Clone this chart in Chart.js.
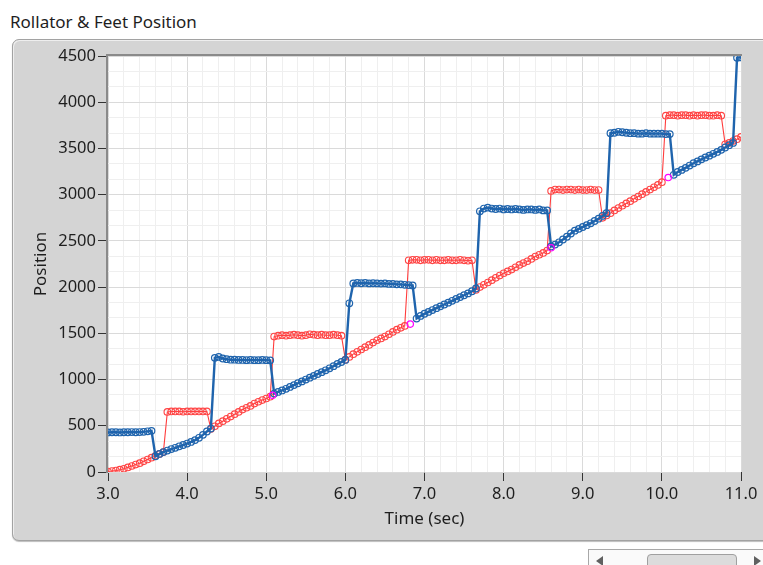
<!DOCTYPE html>
<html><head><meta charset="utf-8">
<script src="https://cdn.jsdelivr.net/npm/chart.js@4.4.1/dist/chart.umd.min.js"></script>
<style>
html,body{margin:0;padding:0;background:#fff;width:763px;height:565px;overflow:hidden;font-family:"Noto Sans",sans-serif;}
#title{position:absolute;left:10px;top:11px;font-size:17px;line-height:22px;color:#1e1e1e;white-space:nowrap;}
#panel{position:absolute;left:12px;top:39px;width:780px;height:500px;background:#d4d4d4;border:1px solid #a2a2a2;border-radius:7px;box-shadow:inset 1px 1px 0 #eeeeee, 0 1px 1px #bdbdbd;}
#chartwrap{position:absolute;left:0;top:0;width:763px;height:565px;}
#scroll{position:absolute;left:588px;top:549px;width:190px;height:20px;border:1px solid #a8a8a8;background:#fafafa;}
#la{position:absolute;left:7px;top:6px;width:0;height:0;border-top:5px solid transparent;border-bottom:5px solid transparent;border-right:7px solid #606060;}
#ra{position:absolute;left:165px;top:6px;width:0;height:0;border-top:5px solid transparent;border-bottom:5px solid transparent;border-left:7px solid #606060;}
#thumb{position:absolute;left:58px;top:4px;width:88px;height:16px;background:#dcdcdc;border:1px solid #a0a0a0;border-radius:4px;}
</style>
</head><body>
<div id="title">Rollator &amp; Feet Position</div>
<div id="panel"></div>
<div id="scroll"><div id="la"></div><div id="thumb"></div><div id="ra"></div></div>
<div id="chartwrap"><canvas id="c" width="763" height="565"></canvas></div>
<script>
// Time base of the waveform chart (start and sample interval, seconds)
const t0 = 3.0;
const dt = 0.05;

// Blue series (one value per sample, t = 3.00 .. 11.00)
const blueValues = [
  428,430,430,428,430,430,432,430,432,435,
  440,445,170,195,215,232,248,262,278,292,
  308,325,345,370,402,438,470,1235,1245,1228,
  1220,1215,1215,1212,1212,1210,1212,1210,1210,1212,
  1210,1208,848,866,882,900,920,940,960,980,
  1000,1020,1040,1060,1080,1100,1122,1145,1170,1190,
  1212,1825,2040,2045,2042,2045,2040,2042,2040,2038,
  2040,2035,2035,2030,2030,2025,2022,2018,1660,1688,
  1712,1732,1752,1772,1792,1812,1832,1852,1872,1892,
  1912,1932,1955,1985,2820,2850,2860,2850,2845,2850,
  2840,2845,2840,2845,2840,2835,2840,2840,2835,2840,
  2830,2830,2440,2460,2485,2515,2545,2580,2610,2630,
  2650,2670,2690,2715,2740,2770,2800,3665,3670,3680,
  3675,3670,3665,3665,3660,3660,3665,3660,3660,3660,
  3660,3655,3655,3215,3245,3268,3290,3315,3340,3360,
  3382,3402,3422,3442,3462,3485,3510,3535,3560,4480,
  4485
];

// Red series (one value per sample, t = 3.00 .. 11.00)
const redValues = [
  5,10,15,25,35,50,65,80,95,115,
  135,155,175,195,215,650,655,655,655,652,
  655,655,655,655,655,655,465,495,525,550,
  575,600,625,650,675,695,715,740,760,778,
  795,815,1465,1475,1480,1475,1480,1485,1480,1475,
  1480,1490,1485,1480,1485,1480,1480,1485,1480,1475,
  1215,1245,1275,1300,1325,1350,1375,1400,1425,1445,
  1465,1490,1515,1540,1560,1580,2290,2295,2295,2290,
  2295,2295,2290,2295,2290,2290,2295,2290,2290,2295,
  2290,2285,2290,1970,2000,2025,2050,2075,2100,2125,
  2150,2170,2190,2215,2240,2260,2280,2305,2330,2350,
  2370,2395,3040,3055,3055,3050,3055,3055,3050,3055,
  3050,3050,3055,3050,3050,2750,2775,2800,2830,2855,
  2880,2905,2930,2955,2980,3005,3030,3055,3080,3105,
  3135,3855,3860,3860,3855,3860,3860,3855,3860,3855,
  3860,3860,3855,3855,3860,3855,3545,3560,3580,3600,
  3625
];

// Magenta marker points
const magentaTimes = [5.08, 6.82, 8.60, 10.08];
const magentaValues = [830, 1600, 2425, 3185];

// Axis settings
const xMin = 3, xMax = 11, xMajor = 1, xMinor = 0.2;
const yMin = 0, yMax = 4500, yMajor = 500, yMinor = 500 / 3;

const times = blueValues.map((_, i) => Math.round((t0 + i * dt) * 1000) / 1000);
const blueData = times.map((t, i) => ({x: t, y: blueValues[i]}));
const redData = times.map((t, i) => ({x: t, y: redValues[i]}));
const magData = magentaTimes.map((t, i) => ({x: t, y: magentaValues[i]}));

function isMajor(v, step) { const r = v / step; return Math.abs(r - Math.round(r)) < 1e-6; }

const framePlugin = {
  id: 'frame',
  beforeDraw(chart) {
    const {ctx, chartArea: a} = chart;
    ctx.save();
    ctx.fillStyle = '#ffffff';
    ctx.fillRect(a.left, a.top, a.right - a.left, a.bottom - a.top);
    ctx.restore();
  },
  beforeDatasetsDraw(chart) {
    const {ctx, chartArea: a} = chart;
    ctx.save();
    ctx.strokeStyle = '#8a8a8a';
    ctx.lineWidth = 2;
    ctx.beginPath();
    ctx.moveTo(a.left - 1, a.bottom + 1);
    ctx.lineTo(a.left - 1, a.top - 1);
    ctx.lineTo(a.right + 1, a.top - 1);
    ctx.stroke();
    ctx.restore();
  }
};

const tickFont = {family: '"Noto Sans", sans-serif', size: 16.5};
const titleFont = {family: '"Noto Sans", sans-serif', size: 17};

new Chart(document.getElementById('c'), {
  type: 'line',
  data: {
    datasets: [
      {label: 'marker', data: magData, showLine: false, pointRadius: 3.2, pointBorderWidth: 1.2,
       pointBorderColor: '#ff00ff', pointBackgroundColor: 'rgba(0,0,0,0)', borderColor: '#ff00ff'},
      {label: 'Blue', data: blueData, borderColor: '#1f64ad', borderWidth: 2.4, pointRadius: 3.3,
       pointBorderWidth: 1.2, pointBorderColor: '#1f64ad', pointBackgroundColor: 'rgba(0,0,0,0)', tension: 0},
      {label: 'Red', data: redData, borderColor: '#ff3c3c', borderWidth: 1.1, pointRadius: 3.3,
       pointBorderWidth: 1.1, pointBorderColor: '#ff4444', pointBackgroundColor: 'rgba(0,0,0,0)', tension: 0}
    ]
  },
  options: {
    responsive: false,
    animation: false,
    devicePixelRatio: 1,
    layout: {padding: {left: 0, top: 56, right: 22, bottom: 0}},
    plugins: {legend: {display: false}, tooltip: {enabled: false}},
    scales: {
      x: {
        type: 'linear', min: xMin, max: xMax,
        afterFit(s) { s.height = 93; },
        ticks: {stepSize: xMinor, autoSkip: false, maxRotation: 0, padding: 3, color: '#1e1e1e', font: tickFont,
          callback: (v) => isMajor(v, xMajor) ? Number(v).toFixed(1) : ''},
        grid: {
          color: (c) => isMajor(c.tick.value, xMajor) ? '#dadada' : '#efefef',
          tickColor: (c) => isMajor(c.tick.value, xMajor) ? '#333333' : 'rgba(0,0,0,0)',
          tickLength: 9, lineWidth: 1
        },
        border: {display: false},
        title: {display: true, text: 'Time (sec)', color: '#1e1e1e', font: titleFont, padding: {top: 0, bottom: 36}}
      },
      y: {
        type: 'linear', min: yMin, max: yMax,
        afterFit(s) { s.width = 108; },
        ticks: {stepSize: yMinor, autoSkip: false, padding: 2, color: '#1e1e1e', font: tickFont,
          callback: (v) => isMajor(v, yMajor) ? String(Math.round(v)) : ''},
        grid: {
          color: (c) => isMajor(c.tick.value, yMajor) ? '#dadada' : '#efefef',
          tickColor: (c) => isMajor(c.tick.value, yMajor) ? '#333333' : 'rgba(0,0,0,0)',
          tickLength: 10, lineWidth: 1
        },
        border: {display: false},
        title: {display: true, text: 'Position', color: '#1e1e1e', font: titleFont, padding: {top: 31, bottom: 0}}
      }
    }
  },
  plugins: [framePlugin]
});
</script>
</body></html>
